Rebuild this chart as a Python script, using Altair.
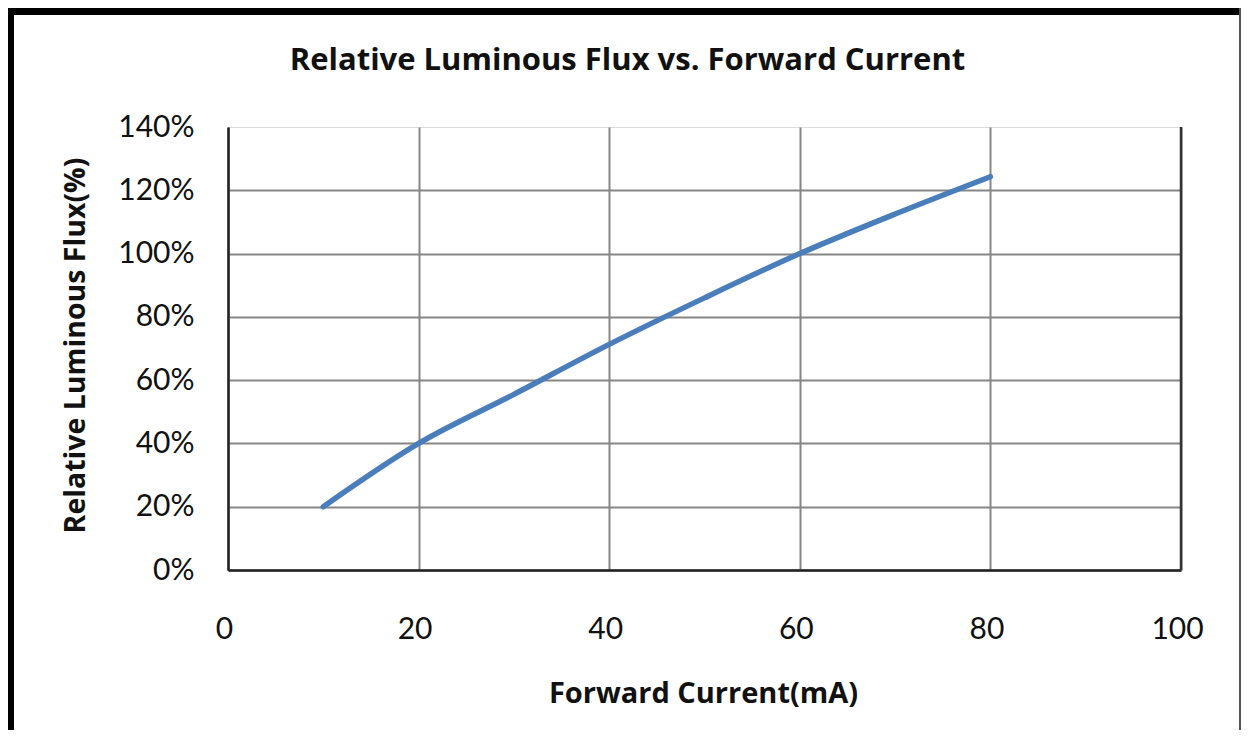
import altair as alt
import pandas as pd

current_ma = [10, 20, 30, 40, 50, 60, 70, 80]
relative_flux = [0.20, 0.40, 0.555, 0.713, 0.86, 1.00, 1.125, 1.243]
x_ticks = [0, 20, 40, 60, 80, 100]
y_ticks = [0, 0.2, 0.4, 0.6, 0.8, 1.0, 1.2, 1.4]

df = pd.DataFrame({"current": current_ma, "flux": relative_flux})
one = pd.DataFrame({"a": [0]})

FONT = "Lato"
TFONT = "Open Sans"
W, H = 953, 443

base = alt.Chart(df)

line = base.mark_line(color="#4a7ebb", strokeWidth=5.5, strokeCap="round", interpolate="monotone").encode(
    x=alt.X("current:Q",
            scale=alt.Scale(domain=[0, 100], nice=False),
            axis=alt.Axis(values=x_ticks, title="Forward Current(mA)", grid=True,
                          gridColor="#868686", gridWidth=2, domainColor="#222222", domainWidth=2.5,
                          ticks=False, labelPadding=44, labelFontSize=30, labelFont=FONT,
                          labelFlush=False, labelColor="#111111", labelOffset=-4,
                          titleFont=TFONT, titleFontSize=29,
                          titleFontWeight="bold", titleColor="#111111",
                          titleX=475, titleY=123, titleBaseline="middle", titleAnchor="start",
                          titleAlign="center")),
    y=alt.Y("flux:Q",
            scale=alt.Scale(domain=[0, 1.4], nice=False),
            axis=alt.Axis(values=y_ticks, format=".0%", title="Relative Luminous  Flux(%)",
                          grid=True, gridColor="#868686", gridWidth=2,
                          gridOpacity={"expr": "datum.value > 1.39 ? 0 : 1"},
                          domainColor="#222222", domainWidth=2.5, ticks=False,
                          labelPadding=34, labelFontSize=30, labelFont=FONT, labelColor="#111111",
                          titleFont=TFONT, titleFontSize=28.5, titleFontWeight="bold",
                          titleColor="#111111", titleAngle=-90, titleX=-153, titleY=218,
                          titleBaseline="middle", titleAlign="center", titleAnchor="start")),
)

right_edge = alt.Chart(one).mark_rule(color="#333333", strokeWidth=2.5).encode(x=alt.datum(100))

border_top = alt.Chart(one).mark_rule(color="#000000", strokeWidth=7).encode(
    x=alt.value(-220), x2=alt.value(1013), y=alt.value(-115.5))
border_left = alt.Chart(one).mark_rule(color="#000000", strokeWidth=6).encode(
    x=alt.value(-217), y=alt.value(-119), y2=alt.value(624))
border_right = alt.Chart(one).mark_rule(color="#555555", strokeWidth=2).encode(
    x=alt.value(1012), y=alt.value(-119), y2=alt.value(624))

chart = alt.layer(right_edge, line, border_top, border_left, border_right).properties(
    width=W, height=H,
    autosize=alt.AutoSizeParams(type="none"),
    padding={"left": 220, "top": 119, "right": 61, "bottom": 160},
    title=alt.TitleParams("Relative Luminous Flux vs. Forward Current", font=TFONT, fontSize=31,
                          fontWeight="bold", color="#111111", anchor="middle", dx=-77,
                          offset=0, dy=72),
).configure_view(stroke=None).configure(background="white")

chart.save("out.html", embed_options={"renderer": "svg", "actions": False})
